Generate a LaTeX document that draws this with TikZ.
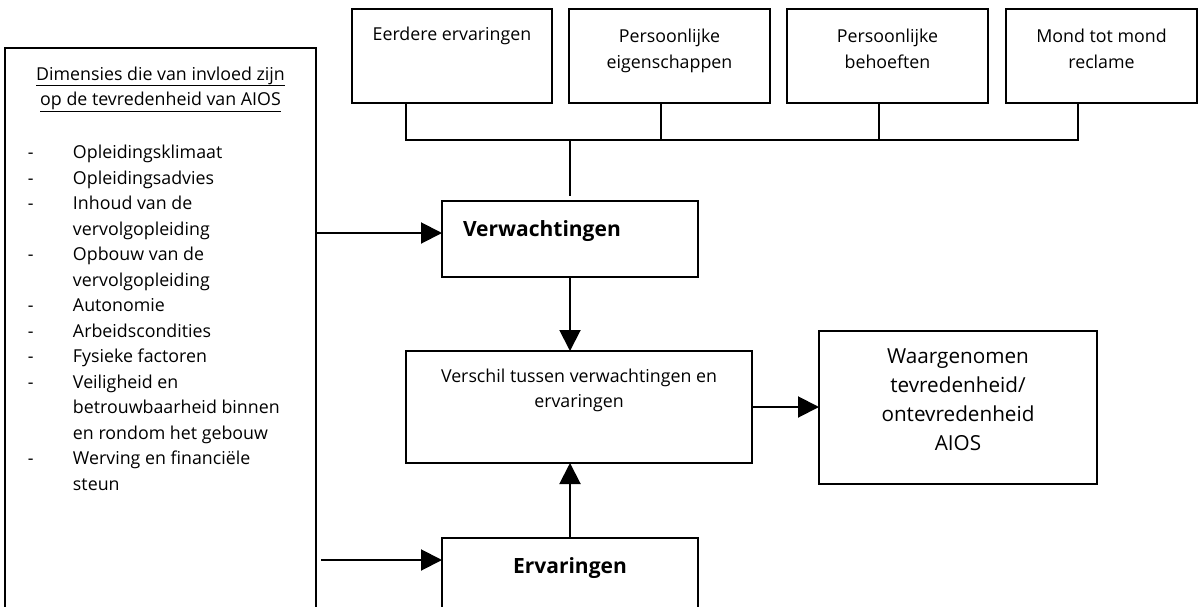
\documentclass[tikz,border=0pt]{standalone}
\usepackage{fontspec}
\setmainfont{Open Sans}
\usetikzlibrary{arrows.meta}
\newcommand\boxtxt[4]{\parbox[c][#2][t]{#1}{\centering\rule{0pt}{#3}#4\par}}
\newcommand\dl[2]{\makebox[68pt][l]{\hspace*{23pt}#1}#2\par}
\begin{document}
\begin{tikzpicture}[x=1pt,y=-1pt,
  boxn/.style={draw, line width=1.7pt, inner sep=0pt, outer sep=0pt, font=\fontsize{17.8}{25.5}\selectfont},
  plain/.style={inner sep=0pt, outer sep=0pt, font=\fontsize{17.8}{25.5}\selectfont},
  edge/.style={line width=1.6pt},
  conn/.style={line width=2pt},
  arr/.style={line width=2pt, -{Triangle[length=21pt,width=21pt]}},
]
\useasboundingbox (0,0) rectangle (1199,607);
% top boxes
\node[boxn, anchor=north west] (b1) at (352,9) {\boxtxt{200pt}{94pt}{32pt}{Eerdere ervaringen}};
\node[boxn, anchor=north west] (b2) at (569,9) {\boxtxt{201pt}{94pt}{34pt}{Persoonlijke\\eigenschappen}};
\node[boxn, anchor=north west] (b3) at (787,9) {\boxtxt{201pt}{94pt}{34pt}{Persoonlijke\\behoeften}};
\node[boxn, anchor=north west] (b4) at (1006,9) {\boxtxt{191pt}{94pt}{34pt}{Mond tot mond\\reclame}};
% bus
\coordinate (d1) at (406,140);
\coordinate (d2) at (661,140);
\coordinate (d3) at (879,140);
\coordinate (d4) at (1078,140);
\coordinate (yv) at (0,233);
\coordinate (ye) at (0,560);
% left box
\node[plain, anchor=north west] (dims) at (5,48) {\parbox[c][559pt][t]{311pt}{%
  {\centering\rule{0pt}{32pt}\underline{Dimensies die van invloed zijn}\\
  \underline{op de tevredenheid van AIOS}\par}
  \vspace{27.5pt}
  \raggedright
  \dl{-}{Opleidingsklimaat}
  \dl{-}{Opleidingsadvies}
  \dl{-}{Inhoud van de}
  \dl{}{vervolgopleiding}
  \dl{-}{Opbouw van de}
  \dl{}{vervolgopleiding}
  \dl{-}{Autonomie}
  \dl{-}{Arbeidscondities}
  \dl{-}{Fysieke factoren}
  \dl{-}{Veiligheid en}
  \dl{}{betrouwbaarheid binnen}
  \dl{}{en rondom het gebouw}
  \dl{-}{Werving en financiële}
  \dl{}{steun}
}};
\draw[edge, line width=1.8pt] (dims.south west) -- (dims.north west) -- (dims.north east) -- (dims.south east);
% middle boxes
\node[boxn, line width=1.4pt, anchor=north west] (verw) at (442,201) {\parbox[c][76pt][t]{256pt}{\hspace*{21pt}\rule{0pt}{35pt}{\fontsize{21}{25}\selectfont\bfseries Verwachtingen}}};
\node[boxn, line width=1.4pt, anchor=north west] (versch) at (406,351) {\boxtxt{346pt}{112pt}{31pt}{Verschil tussen verwachtingen en\\ervaringen}};
\node[plain, anchor=north west] (erv) at (442,538) {\boxtxt{256pt}{69pt}{35pt}{\fontsize{21}{25}\selectfont\bfseries Ervaringen}};
\draw[edge, line width=1.4pt] (erv.south west) -- (erv.north west) -- (erv.north east) -- (erv.south east);
\node[boxn, line width=1.4pt, anchor=north west, font=\fontsize{20.7}{29}\selectfont] (waar) at (819,331) {\boxtxt{278pt}{153pt}{32pt}{Waargenomen\\tevredenheid/\\ontevredenheid\\AIOS}};
% connectors
\draw[conn] (d1 |- b1.south) -- (d1) -- (d4) -- (d4 |- b4.south);
\draw[conn] (d2 |- b2.south) -- (d2);
\draw[conn] (d3 |- b3.south) -- (d3);
\draw[conn] (verw.north |- d1) -- ([yshift=5pt]verw.north);
\draw[arr] (dims.east |- yv) -- (verw.west |- yv);
\draw[arr] ([xshift=5pt]dims.east |- ye) -- (erv.west |- ye);
\draw[arr] (verw.south) -- (verw.south |- versch.north);
\draw[arr] (erv.north) -- (erv.north |- versch.south);
\draw[arr] (versch.east) -- (versch.east -| waar.west);
\end{tikzpicture}
\end{document}
